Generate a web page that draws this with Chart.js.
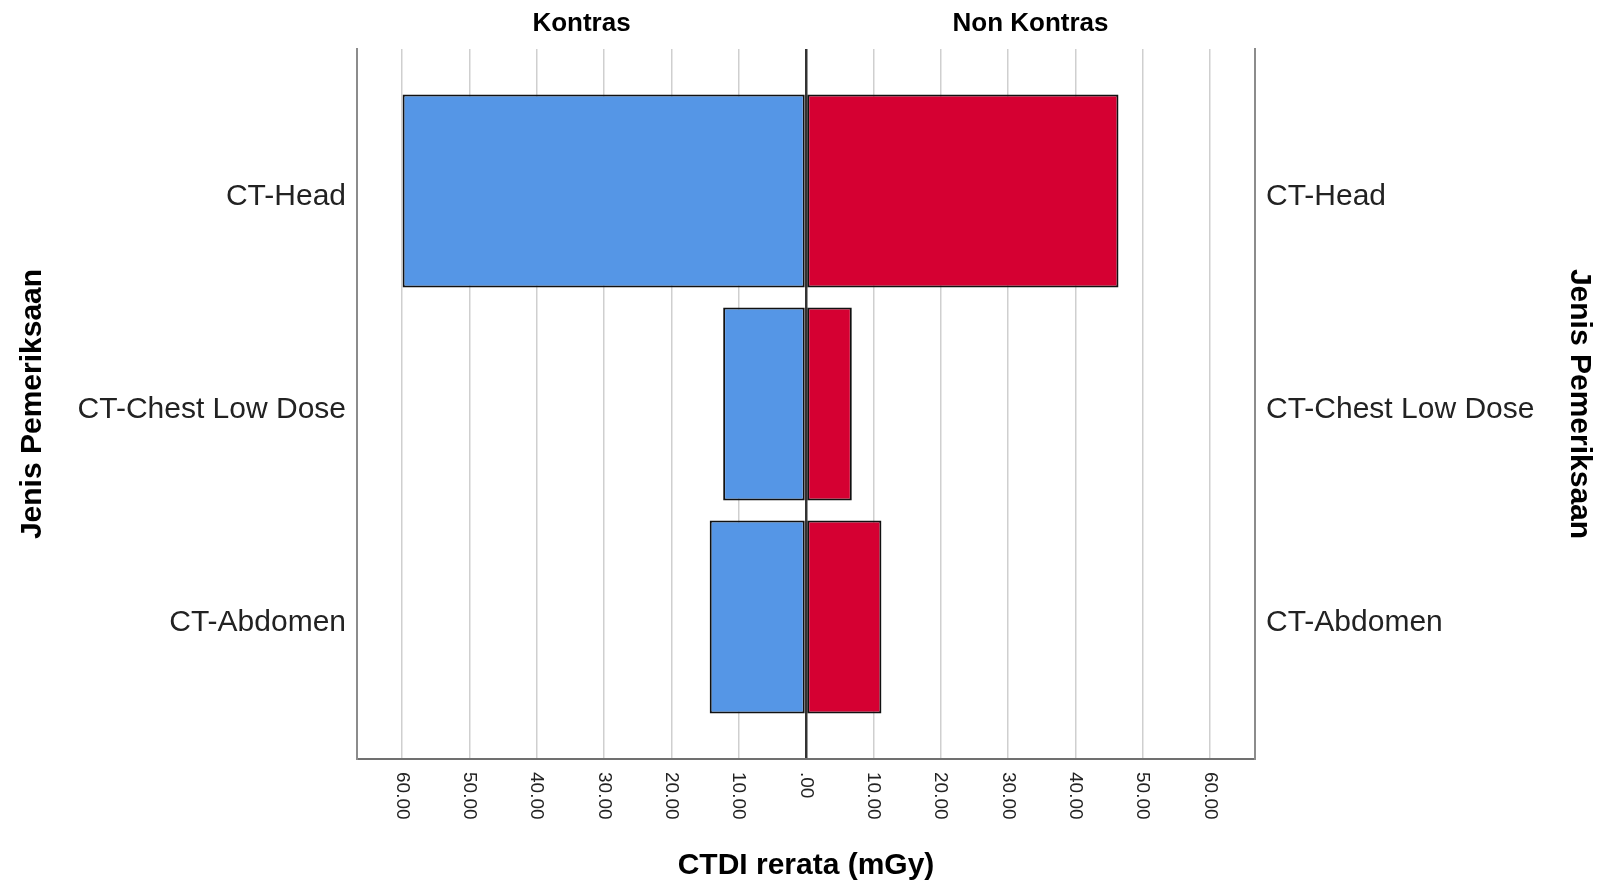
<!DOCTYPE html>
<html>
<head>
<meta charset="utf-8">
<script src="https://cdn.jsdelivr.net/npm/chart.js@4.4.1/dist/chart.umd.min.js"></script>
<style>
  body { margin: 0; background: #fff; }
  #wrap { width: 1600px; height: 882px; }
</style>
</head>
<body>
<div id="wrap"><canvas id="piramida"></canvas></div>
<script>
const pemeriksaan = ['CT-Head', 'CT-Chest Low Dose', 'CT-Abdomen'];
const kontras = [59.9, 12.3, 14.3];
const nonKontras = [46.4, 6.8, 11.2];
const panelKiri = 'Kontras';
const panelKanan = 'Non Kontras';
const batasX = 66.67;

const fontUtama = "'Liberation Sans', Arial, sans-serif";

// label sumbu X diputar searah jarum jam seperti output SPSS
const labelBawah = {
  id: 'labelBawah',
  afterDraw(chart) {
    const ctx = chart.ctx;
    const sx = chart.scales.x;
    const area = chart.chartArea;
    ctx.save();
    ctx.fillStyle = '#222';
    ctx.font = '19px ' + fontUtama;
    ctx.textAlign = 'left';
    ctx.textBaseline = 'middle';
    sx.ticks.forEach(t => {
      const px = sx.getPixelForValue(t.value);
      let teks = Math.abs(t.value).toFixed(2).replace(/^0/, '');
      ctx.save();
      ctx.translate(px, area.bottom + 13);
      ctx.rotate(Math.PI / 2);
      ctx.fillText(teks, 0, 0);
      ctx.restore();
    });
    // judul panel atas
    ctx.font = 'bold 26px ' + fontUtama;
    ctx.fillStyle = '#000';
    ctx.textAlign = 'center';
    const tengah = sx.getPixelForValue(0);
    ctx.fillText(panelKiri, (area.left + tengah) / 2, 24);
    ctx.fillText(panelKanan, (tengah + area.right) / 2, 24);
    ctx.restore();
  }
};

const sumbuKategori = (posisi, lebar, padJudul) => ({
  type: 'linear',
  position: posisi,
  min: -0.667,
  max: 2.667,
  offset: false,
  reverse: true,
  afterBuildTicks: s => { s.ticks = pemeriksaan.map((_, i) => ({ value: i })); },
  afterFit: s => { s.width = lebar; },
  grid: { display: false, drawTicks: false, offset: false },
  border: { display: true, color: '#8c8c8c', width: 2 },
  ticks: {
    padding: 11,
    labelOffset: 6,
    color: '#222',
    font: { size: 30, family: fontUtama },
    callback: v => pemeriksaan[v]
  },
  title: {
    display: true,
    text: 'Jenis Pemeriksaan',
    color: '#000',
    padding: { top: padJudul, bottom: 0 },
    font: { size: 30, weight: 'bold', family: fontUtama }
  }
});

new Chart(document.getElementById('piramida'), {
  type: 'bar',
  data: {
    datasets: [{
      label: panelKiri,
      data: kontras.map((v, i) => ({ x: -v, y: i })),
      backgroundColor: '#5596e6',
      borderColor: '#111',
      borderWidth: 2,
      borderSkipped: false,
      grouped: false,
      yAxisID: 'y'
    }, {
      label: panelKanan,
      data: nonKontras.map((v, i) => ({ x: v, y: i })),
      backgroundColor: '#d50032',
      borderColor: '#111',
      borderWidth: 2,
      borderSkipped: false,
      grouped: false,
      yAxisID: 'y'
    }]
  },
  options: {
    indexAxis: 'y',
    responsive: true,
    maintainAspectRatio: false,
    animation: false,
    layout: { padding: { top: 49, left: 0, right: 0, bottom: 0 } },
    datasets: { bar: { barPercentage: 0.906, categoryPercentage: 1 } },
    plugins: { legend: { display: false }, tooltip: { enabled: false } },
    scales: {
      x: {
        type: 'linear',
        min: -batasX,
        max: batasX,
        afterFit: s => { s.height = 123; },
        ticks: { stepSize: 10, includeBounds: false, display: false },
        grid: {
          drawTicks: false,
          color: c => c.tick && c.tick.value === 0 ? '#333' : '#cfcfcf',
          lineWidth: c => c.tick && c.tick.value === 0 ? 2.5 : 1.5
        },
        border: { display: true, color: '#707070', width: 2 },
        title: {
          display: true,
          text: 'CTDI rerata (mGy)',
          color: '#000',
          padding: { top: 0, bottom: 1 },
          font: { size: 30, weight: 'bold', family: fontUtama, lineHeight: 1 }
        }
      },
      y: sumbuKategori('left', 357, 15),
      y2: sumbuKategori('right', 345, 3)
    }
  },
  plugins: [labelBawah]
});
</script>
</body>
</html>
